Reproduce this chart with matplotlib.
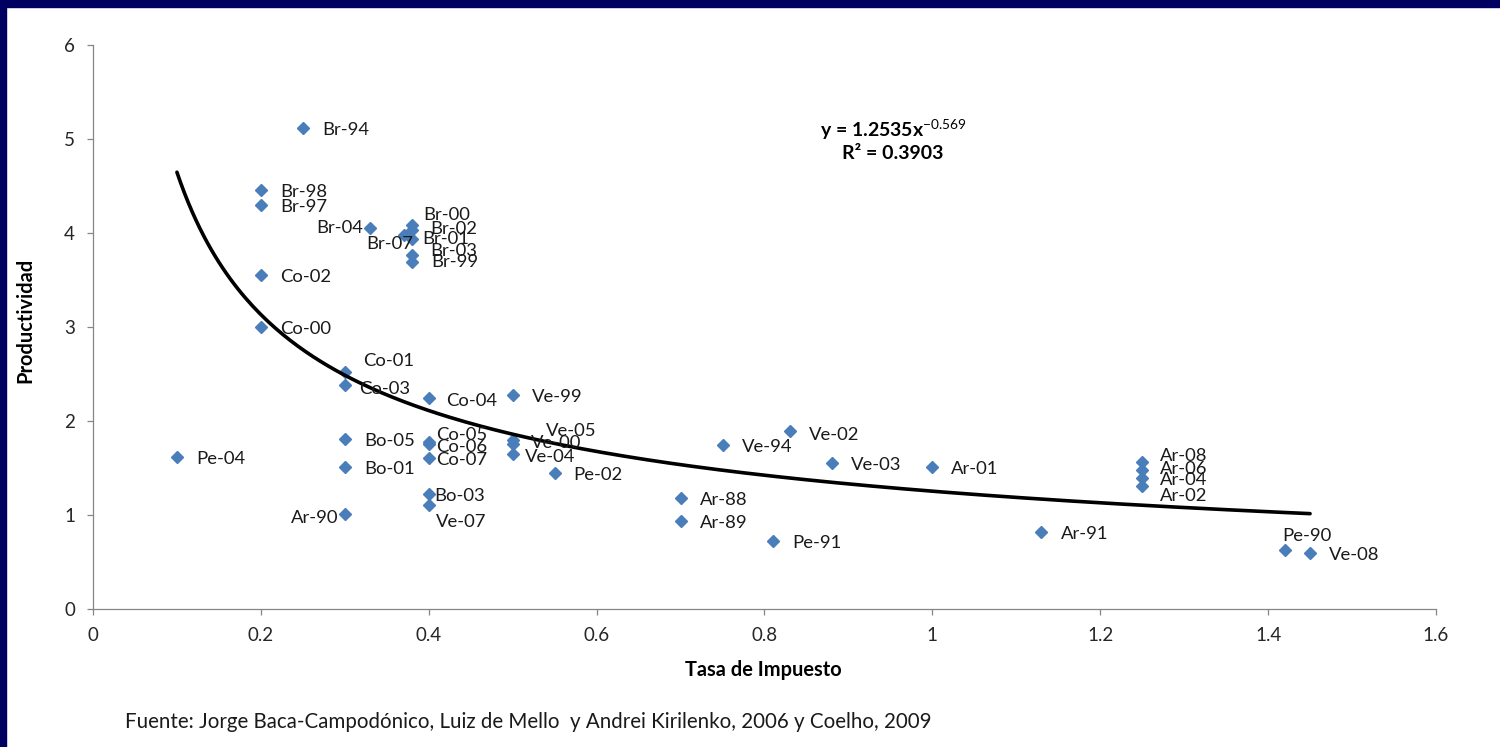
import numpy as np
import matplotlib.pyplot as plt
from matplotlib.patches import Rectangle

plt.rcParams['font.family'] = ['Lato', 'DejaVu Sans']
plt.rcParams['mathtext.fontset'] = 'custom'
plt.rcParams['mathtext.rm'] = 'Lato'
plt.rcParams['mathtext.bf'] = 'Lato:bold'

# data
labels = ['Br-94', 'Br-98', 'Br-97', 'Br-04', 'Br-00', 'Br-02', 'Br-07', 'Br-01',
          'Br-03', 'Br-99', 'Co-02', 'Co-00', 'Co-01', 'Co-03', 'Co-04', 'Ve-99',
          'Bo-05', 'Co-05', 'Co-06', 'Co-07', 'Ve-05', 'Ve-00', 'Ve-04', 'Pe-04',
          'Bo-01', 'Pe-02', 'Bo-03', 'Ve-07', 'Ar-90', 'Ve-94', 'Ve-02', 'Ve-03',
          'Ar-01', 'Ar-88', 'Ar-89', 'Pe-91', 'Ar-91', 'Ar-08', 'Ar-06', 'Ar-04',
          'Ar-02', 'Pe-90', 'Ve-08']
tasa = [0.25, 0.20, 0.20, 0.33, 0.38, 0.38, 0.37, 0.38, 0.38, 0.38, 0.20, 0.20,
        0.30, 0.30, 0.40, 0.50, 0.30, 0.40, 0.40, 0.40, 0.50, 0.50, 0.50, 0.10,
        0.30, 0.55, 0.40, 0.40, 0.30, 0.75, 0.83, 0.88, 1.00, 0.70, 0.70, 0.81,
        1.13, 1.25, 1.25, 1.25, 1.25, 1.42, 1.45]
productividad = [5.12, 4.46, 4.30, 4.05, 4.08, 4.03, 3.98, 3.94, 3.77, 3.69, 3.55,
                 3.00, 2.52, 2.38, 2.25, 2.28, 1.81, 1.78, 1.76, 1.61, 1.80, 1.76,
                 1.65, 1.62, 1.51, 1.45, 1.22, 1.11, 1.01, 1.74, 1.89, 1.55, 1.51,
                 1.18, 0.94, 0.72, 0.82, 1.56, 1.48, 1.39, 1.31, 0.63, 0.60]

# power trendline shown on the chart
coef_a = 1.2535
coef_b = -0.569
r2 = 0.3903

x_ticks = [0, 0.2, 0.4, 0.6, 0.8, 1, 1.2, 1.4, 1.6]
y_ticks = [0, 1, 2, 3, 4, 5, 6]

# label placement (pixels right, pixels down, alignment) where it isn't the default
default_off = (19, 2, 'left')
label_off = {
    'Br-04': (-7, 0, 'right'), 'Br-07': (10, 9, 'right'), 'Br-00': (11, -10, 'left'),
    'Br-02': (18, -1, 'left'), 'Br-01': (10, 0, 'left'), 'Br-03': (18, -4, 'left'),
    'Br-99': (19, 0, 'left'), 'Co-01': (18, -11, 'left'), 'Co-03': (14, 4, 'left'),
    'Co-04': (17, 3, 'left'), 'Co-05': (7, -7, 'left'), 'Co-06': (7, 3, 'left'),
    'Co-07': (7, 2, 'left'), 'Ve-05': (33, -9, 'left'), 'Ve-00': (18, -1, 'left'),
    'Ve-04': (12, 3, 'left'), 'Bo-03': (6, 2, 'left'), 'Ve-07': (7, 17, 'left'),
    'Ar-90': (-6, 4, 'right'), 'Ar-08': (18, -6, 'left'), 'Ar-06': (18, -1, 'left'),
    'Ar-04': (18, 2, 'left'), 'Ar-02': (18, 10, 'left'), 'Pe-90': (-3, -14, 'left'),
    'Ve-02': (19, 4, 'left'),
}

fig = plt.figure(figsize=(15, 7.47), dpi=100)
ax = fig.add_axes([0.062, 0.1847, 0.8953, 0.7551])

# navy slide frame
fig.patches.append(Rectangle((0, 0.9906), 1, 0.0094, transform=fig.transFigure,
                             color='#000060', zorder=0))
fig.patches.append(Rectangle((0, 0), 0.004, 1, transform=fig.transFigure,
                             color='#000060', zorder=0))

ax.plot(tasa, productividad, 'D', color='#4A7EBB', markersize=6.2, zorder=3)

xx = np.linspace(min(tasa), max(tasa), 300)
ax.plot(xx, coef_a * xx ** coef_b, color='black', linewidth=2.6, zorder=4,
        solid_capstyle='round')

for lab, x, y in zip(labels, tasa, productividad):
    dx, dy, ha = label_off.get(lab, default_off)
    ax.annotate(lab, (x, y), xytext=(dx, -dy), textcoords='offset pixels',
                ha=ha, va='center', fontsize=13.3, color='#1a1a1a', zorder=5)

ax.text(0.953, 5.10, 'y = %.4fx$^{\\mathrm{%.3f}}$' % (coef_a, coef_b),
        ha='center', va='center', fontsize=14, fontweight='bold')
ax.text(0.953, 4.85, 'R² = %.4f' % r2, ha='center', va='center',
        fontsize=14, fontweight='bold')

ax.set_xlim(0, 1.6)
ax.set_ylim(0, 6)
ax.set_xticks(x_ticks)
ax.set_xticklabels(['%g' % t for t in x_ticks])
ax.set_yticks(y_ticks)
ax.set_yticklabels(['%g' % t for t in y_ticks])

for s in ['top', 'right']:
    ax.spines[s].set_visible(False)
for s in ['left', 'bottom']:
    ax.spines[s].set_color('#868686')
    ax.spines[s].set_linewidth(0.9)
ax.tick_params(direction='out', length=4, width=0.9, color='#868686',
               labelsize=13.5, labelcolor='#262626')
ax.tick_params(axis='y', pad=9)
ax.tick_params(axis='x', pad=9)

ax.set_xlabel('Tasa de Impuesto', fontsize=14.4, fontweight='bold')
ax.set_ylabel('Productividad', fontsize=14.4, fontweight='bold')
ax.xaxis.set_label_coords(0.499, -0.108)
ax.yaxis.set_label_coords(-0.0506, 0.512)
ax.xaxis.label.set_va('center')
ax.yaxis.label.set_va('center')

fig.text(125 / 1500, 1 - 722 / 747,
         'Fuente: Jorge Baca-Campodónico, Luiz de Mello  y Andrei Kirilenko, 2006 y Coelho, 2009',
         ha='left', va='center', fontsize=14.8, color='#1a1a1a')

plt.savefig('out.png', dpi=100)
